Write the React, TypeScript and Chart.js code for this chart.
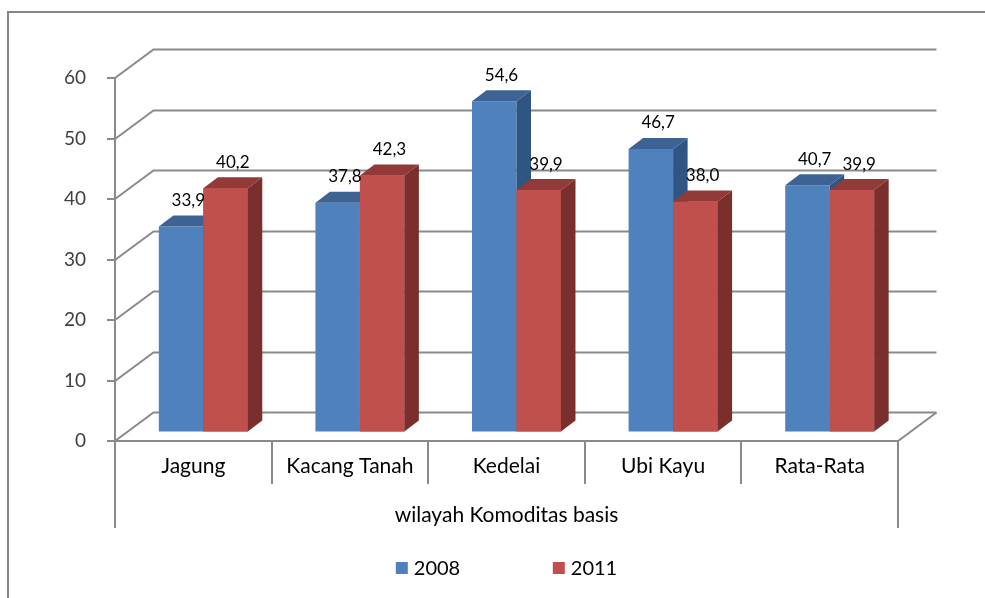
import React, { useEffect, useRef } from 'react';
import { Chart, registerables } from 'chart.js';

Chart.register(...registerables);

const categories = ['Jagung', 'Kacang Tanah', 'Kedelai', 'Ubi Kayu', 'Rata-Rata'];
const values2008 = [33.9, 37.8, 54.6, 46.7, 40.7];
const values2011 = [40.2, 42.3, 39.9, 38.0, 39.9];
const seriesLabels = ['2008', '2011'];
const yMin = 0;
const yMax = 60;
const yStep = 10;
const axisTitle = 'wilayah Komoditas basis';

const FONT = 'Lato, "Open Sans", sans-serif';
const WALL_DX = 38.5;
const WALL_DY = -28.5;
const BAR_DX = 10;
const BAR_DY = -9.5;
const DEPTH_DX = 14.5;
const DEPTH_DY = -11;
const GRID = '#8a8a8a';

const faceColors = [
  { front: '#4f81bd', top: '#3c6394', side: '#2f5582' },
  { front: '#c0504d', top: '#923a38', side: '#7a2f2d' },
];

const fmt = (v: number) => v.toFixed(1).replace('.', ',');

function drawDepth(ctx: CanvasRenderingContext2D, el: any, c: { top: string; side: string }) {
  const l = el.x - el.width / 2;
  const r = el.x + el.width / 2;
  const t = el.y;
  const b = el.base;
  ctx.fillStyle = c.side;
  ctx.beginPath();
  ctx.moveTo(r, t);
  ctx.lineTo(r + DEPTH_DX, t + DEPTH_DY);
  ctx.lineTo(r + DEPTH_DX, b + DEPTH_DY);
  ctx.lineTo(r, b);
  ctx.closePath();
  ctx.fill();
  ctx.fillStyle = c.top;
  ctx.beginPath();
  ctx.moveTo(l, t);
  ctx.lineTo(r, t);
  ctx.lineTo(r + DEPTH_DX, t + DEPTH_DY);
  ctx.lineTo(l + DEPTH_DX, t + DEPTH_DY);
  ctx.closePath();
  ctx.fill();
}

const threeD = {
  id: 'threeD',
  beforeDraw(chart: any) {
    const { ctx, chartArea, scales } = chart;
    const { left, right, top, bottom } = chartArea;
    const y = scales.y;
    const x = scales.x;
    ctx.save();
    ctx.fillStyle = '#ffffff';
    ctx.fillRect(0, 0, chart.width, chart.height);
    // outer frame
    ctx.strokeStyle = '#858585';
    ctx.lineWidth = 2;
    ctx.beginPath();
    ctx.moveTo(8, chart.height + 4);
    ctx.lineTo(8, 12);
    ctx.lineTo(chart.width + 4, 12);
    ctx.stroke();

    ctx.strokeStyle = GRID;
    ctx.lineWidth = 2;
    ctx.lineCap = 'butt';
    for (const t of y.ticks) {
      const py = Math.round(y.getPixelForValue(t.value));
      ctx.beginPath();
      ctx.moveTo(left, py);
      ctx.lineTo(left + WALL_DX, py + WALL_DY);
      ctx.lineTo(right + WALL_DX, py + WALL_DY);
      ctx.stroke();
      ctx.beginPath();
      ctx.moveTo(left - 8, py);
      ctx.lineTo(left, py);
      ctx.stroke();
    }
    ctx.beginPath();
    ctx.moveTo(left, bottom);
    ctx.lineTo(right, bottom);
    ctx.lineTo(right + WALL_DX, bottom + WALL_DY);
    ctx.stroke();
    ctx.beginPath();
    ctx.moveTo(left, top);
    ctx.lineTo(left, bottom + 87);
    ctx.moveTo(right, bottom);
    ctx.lineTo(right, bottom + 87);
    const n = categories.length;
    for (let i = 1; i < n; i++) {
      const px = Math.round((x.getPixelForValue(i - 1) + x.getPixelForValue(i)) / 2);
      ctx.moveTo(px, bottom);
      ctx.lineTo(px, bottom + 43);
    }
    ctx.stroke();
    ctx.restore();
  },
  beforeDatasetsDraw(chart: any) {
    chart.ctx.save();
    chart.ctx.translate(BAR_DX, BAR_DY);
  },
  afterDatasetsDraw(chart: any) {
    const { ctx } = chart;
    const metas = chart.data.datasets.map((_: any, i: number) => chart.getDatasetMeta(i));
    for (let i = 0; i < categories.length; i++) {
      metas.forEach((meta: any, di: number) => {
        const el = meta.data[i];
        if (!el) return;
        if (di > 0) el.draw(ctx);
        drawDepth(ctx, el, faceColors[di]);
      });
    }
    ctx.restore();

    ctx.save();
    ctx.fillStyle = '#000000';
    ctx.font = `17px ${FONT}`;
    ctx.textAlign = 'center';
    ctx.textBaseline = 'middle';
    chart.data.datasets.forEach((ds: any, di: number) => {
      const meta = chart.getDatasetMeta(di);
      meta.data.forEach((el: any, i: number) => {
        const lx = el.x + BAR_DX + DEPTH_DX / 2;
        const ly = el.y + BAR_DY + DEPTH_DY - 15;
        ctx.fillText(fmt(ds.data[i]), lx, ly);
      });
    });
    // legend
    ctx.font = `20px ${FONT}`;
    ctx.textAlign = 'left';
    const box = 12;
    const gap = 6;
    const pitch = 157;
    const widths = chart.data.datasets.map((ds: any) => box + gap + ctx.measureText(ds.label).width);
    const total = pitch * (widths.length - 1) + widths[widths.length - 1];
    const cx = (chart.chartArea.left + chart.chartArea.right) / 2;
    let sx = cx - total / 2;
    const ly = 568;
    chart.data.datasets.forEach((ds: any, di: number) => {
      ctx.fillStyle = faceColors[di].front;
      ctx.fillRect(sx, ly - box / 2, box, box);
      ctx.fillStyle = '#000000';
      ctx.fillText(ds.label, sx + box + gap, ly + 1);
      sx += pitch;
    });
    ctx.restore();
  },
};

export default function App() {
  const ref = useRef<HTMLCanvasElement | null>(null);
  useEffect(() => {
    if (!ref.current) return;
    const chart = new Chart(ref.current, {
      type: 'bar',
      data: {
        labels: categories,
        datasets: [
          {
            label: seriesLabels[0],
            data: values2008,
            backgroundColor: faceColors[0].front,
            borderWidth: 0,
            clip: false as any,
          },
          {
            label: seriesLabels[1],
            data: values2011,
            backgroundColor: faceColors[1].front,
            borderWidth: 0,
            clip: false as any,
          },
        ],
      },
      options: {
        responsive: false,
        animation: false,
        events: [],
        layout: { padding: { top: 78, right: 87, left: 0, bottom: 0 } },
        datasets: { bar: { categoryPercentage: 0.568, barPercentage: 1 } },
        plugins: { legend: { display: false }, tooltip: { enabled: false } },
        scales: {
          x: {
            grid: { display: false, drawTicks: false },
            border: { display: false },
            ticks: { color: '#000000', font: { family: FONT, size: 21 }, padding: 13, maxRotation: 0 },
            title: {
              display: true,
              text: axisTitle,
              color: '#000000',
              font: { family: FONT, size: 21 },
              padding: { top: 0, bottom: 70 },
            },
            afterFit: (s: any) => { s.height = 157; },
          },
          y: {
            min: yMin,
            max: yMax,
            grid: { display: false, drawTicks: false },
            border: { display: false },
            ticks: { stepSize: yStep, color: '#404040', font: { family: FONT, size: 19 }, padding: 29 },
            afterFit: (s: any) => { s.width = 115; },
          },
        },
      },
      plugins: [threeD],
    });
    return () => chart.destroy();
  }, []);
  return (
    <div style={{ position: 'fixed', left: 0, top: 0, width: 985, height: 598, background: '#fff' }}>
      <canvas ref={ref} width={985} height={598} style={{ display: 'block', width: 985, height: 598 }} />
    </div>
  );
}
